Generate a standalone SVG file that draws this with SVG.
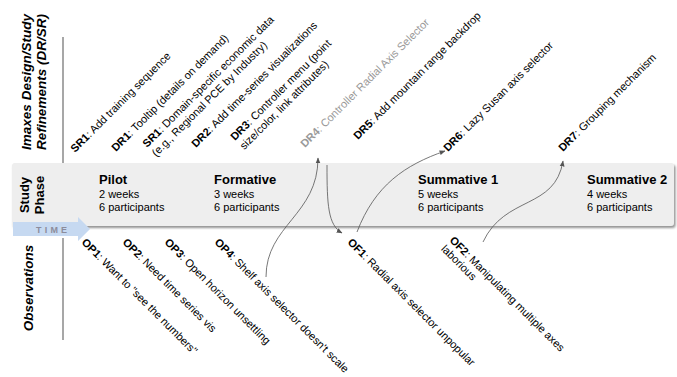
<svg xmlns="http://www.w3.org/2000/svg" width="677" height="377" viewBox="0 0 677 377">
<style>
text{font-family:"Liberation Sans",Arial,sans-serif;fill:#000}
.lbl{font-size:11px}
.b{font-weight:bold}
.side{font-size:13.5px;font-weight:bold;font-style:italic;text-anchor:middle}
.phase{font-size:13px;font-weight:bold;text-anchor:middle}
.ph{font-size:13px;font-weight:bold}
.pd{font-size:11px}
.conn{fill:none;stroke:#555;stroke-width:0.8}
.axis{stroke:#8a8a8a;stroke-width:1.5}
</style>
<defs>
<marker id="ah" viewBox="0 0 10 10" refX="9" refY="5" markerWidth="6" markerHeight="6" orient="auto" markerUnits="userSpaceOnUse">
<path d="M0,1 L10,5 L0,9 z" fill="#555"/>
</marker>
<filter id="sh" x="-5%" y="-20%" width="110%" height="150%">
<feDropShadow dx="1.5" dy="2" stdDeviation="1" flood-color="#777" flood-opacity="0.8"/>
</filter>
</defs>
<rect width="677" height="377" fill="#fff"/>

<g id="band">
<rect x="12" y="163" width="662" height="63" rx="3" fill="#eeeeee" filter="url(#sh)"/>
</g>

<g id="axis-lines">
<line class="axis" x1="63" y1="37" x2="63" y2="163"/>
<line class="axis" x1="63" y1="238" x2="63" y2="340"/>
</g>

<g id="side-labels">
<text class="side" transform="translate(31,82) rotate(-90)"><tspan x="0" y="0">Imaxes Design/Study</tspan><tspan x="0" y="15">Refinements (DR/SR)</tspan></text>
<text class="phase" transform="translate(29,195) rotate(-90)"><tspan x="0" y="0">Study</tspan><tspan x="0" y="15">Phase</tspan></text>
<text class="side" transform="translate(33,288) rotate(-90)">Observations</text>
</g>

<g id="time-arrow">
<path d="M13,222 L78,222 L78,217 L90,229 L78,241 L78,236 L13,236 z" fill="#c6d9f1"/>
<text x="36" y="233" font-size="9" font-weight="bold" fill="#8c8c9c" letter-spacing="3.2" style="fill:#8c8c9c">TIME</text>
</g>

<g id="phase-pilot">
<text class="ph" x="99" y="184">Pilot</text>
<text class="pd" x="99" y="198">2 weeks</text>
<text class="pd" x="99" y="211">6 participants</text>
</g>
<g id="phase-formative">
<text class="ph" x="214" y="184">Formative</text>
<text class="pd" x="214" y="198">3 weeks</text>
<text class="pd" x="214" y="211">6 participants</text>
</g>
<g id="phase-summative1">
<text class="ph" x="418" y="184">Summative 1</text>
<text class="pd" x="418" y="198">5 weeks</text>
<text class="pd" x="418" y="211">6 participants</text>
</g>
<g id="phase-summative2">
<text class="ph" x="587" y="184">Summative 2</text>
<text class="pd" x="587" y="198">4 weeks</text>
<text class="pd" x="587" y="211">6 participants</text>
</g>

<g id="sr1a"><text class="lbl" transform="translate(75,153) rotate(-45)"><tspan class="b">SR1</tspan>: Add training sequence</text></g>
<g id="dr1"><text class="lbl" transform="translate(116,152) rotate(-45)"><tspan class="b">DR1</tspan>: Tooltip (details on demand)</text></g>
<g id="sr1b"><text class="lbl" transform="translate(147,148) rotate(-45)"><tspan x="0" y="0"><tspan class="b">SR1</tspan>: Domain-specific economic data</tspan><tspan x="0" y="13">(e.g., Regional PCE by Industry)</tspan></text></g>
<g id="dr2"><text class="lbl" transform="translate(196,148) rotate(-45)"><tspan class="b">DR2</tspan>: Add time-series visualizations</text></g>
<g id="dr3"><text class="lbl" transform="translate(235,141) rotate(-45)"><tspan x="0" y="0"><tspan class="b">DR3</tspan>: Controller menu (point</tspan><tspan x="0" y="13">size/color, link attributes)</tspan></text></g>
<g id="dr4"><text class="lbl" transform="translate(305,148) rotate(-45)" style="fill:#999"><tspan class="b" style="fill:#999">DR4</tspan>: Controller Radial Axis Selector</text></g>
<g id="dr5"><text class="lbl" transform="translate(358,140) rotate(-45)"><tspan class="b">DR5</tspan>: Add mountain range backdrop</text></g>
<g id="dr6"><text class="lbl" transform="translate(448,152) rotate(-45)"><tspan class="b">DR6</tspan>: Lazy Susan axis selector</text></g>
<g id="dr7"><text class="lbl" transform="translate(563,152) rotate(-45)"><tspan class="b">DR7</tspan>: Grouping mechanism</text></g>

<g id="op1"><text class="lbl" transform="translate(81,243) rotate(45)"><tspan class="b">OP1</tspan>: Want to "see the numbers"</text></g>
<g id="op2"><text class="lbl" transform="translate(122,243) rotate(45)"><tspan class="b">OP2</tspan>: Need time series vis</text></g>
<g id="op3"><text class="lbl" transform="translate(164,243) rotate(45)"><tspan class="b">OP3</tspan>: Open horizon unsettling</text></g>
<g id="op4"><text class="lbl" transform="translate(214,243) rotate(45)"><tspan class="b">OP4</tspan>: Shelf axis selector doesn't scale</text></g>
<g id="of1"><text class="lbl" transform="translate(347,243) rotate(45)"><tspan class="b">OF1</tspan>: Radial axis selector unpopular</text></g>
<g id="of2"><text class="lbl" transform="translate(449,241) rotate(45)"><tspan x="0" y="0"><tspan class="b">OF2</tspan>: Manipulating multiple axes</tspan><tspan x="0" y="12">laborious</tspan></text></g>

<g id="connectors">
<path class="conn" d="M266,277 C266,225 318,215 318,158" marker-end="url(#ah)"/>
<path class="conn" d="M327,165 C327,205 328,225 342,233" marker-end="url(#ah)"/>
<path class="conn" d="M357,232 C375,185 405,165 445,151" marker-end="url(#ah)"/>
<path class="conn" d="M483,242 C505,195 555,210 563,161" marker-end="url(#ah)"/>
</g>
</svg>
